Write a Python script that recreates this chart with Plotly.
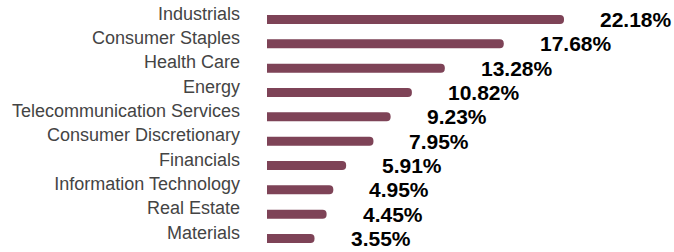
import plotly.graph_objects as go

categories = ["Industrials", "Consumer Staples", "Health Care", "Energy",
              "Telecommunication Services", "Consumer Discretionary", "Financials",
              "Information Technology", "Real Estate", "Materials"]
values = [22.18, 17.68, 13.28, 10.82, 9.23, 7.95, 5.91, 4.95, 4.45, 3.55]
value_labels = [f"{v:.2f}%" for v in values]

BAR_COLOR = "#7E4357"
FONT = "Liberation Sans, Arial, sans-serif"

fig = go.Figure()
fig.add_trace(go.Bar(
    x=values, y=categories, orientation="h",
    marker=dict(color=BAR_COLOR, cornerradius=4, line=dict(width=0)),
    hoverinfo="skip",
))

for v, c, t in zip(values, categories, value_labels):
    fig.add_annotation(x=v, y=c, text=f"<b>{t}</b>", showarrow=False,
                       xanchor="left", yanchor="middle", xshift=34, yshift=0,
                       font=dict(family=FONT, size=21, color="#000000"))

fig.update_layout(
    width=674, height=252,
    margin=dict(l=267, r=14, t=6, b=0),
    paper_bgcolor="white", plot_bgcolor="white",
    bargap=0.63, showlegend=False,
    xaxis=dict(range=[0, 29.35], visible=False, fixedrange=True),
    yaxis=dict(categoryorder="array", categoryarray=categories, autorange="reversed",
               showgrid=False, zeroline=False, showline=False, ticks="",
               ticklabelstandoff=26, ticklabelshift=6, fixedrange=True,
               tickfont=dict(family=FONT, size=18, color="#444444")),
)

fig.write_html("out.html", config={"displayModeBar": False, "staticPlot": True},
               post_script="document.body.style.margin='0';document.body.style.overflow='hidden';")
